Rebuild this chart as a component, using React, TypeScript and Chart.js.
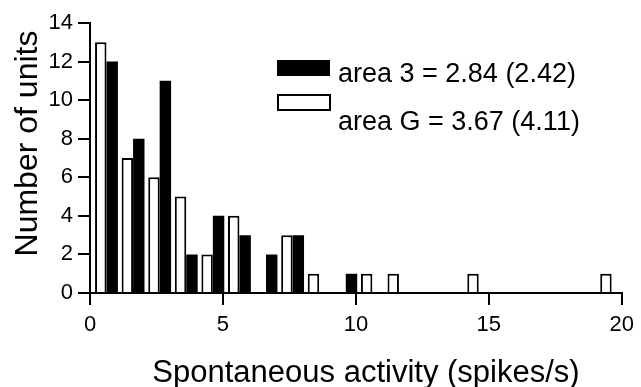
import { useEffect, useRef } from "react";
import { Chart, registerables } from "chart.js";

Chart.register(...registerables);

// ---- data ----
const binStarts = [0, 1, 2, 3, 4, 5, 6, 7, 8, 9, 10, 11, 12, 13, 14, 15, 16, 17, 18, 19];
const area3Counts = [12, 8, 11, 2, 4, 3, 2, 3, 0, 1, 0, 0, 0, 0, 0, 0, 0, 0, 0, 0];
const areaGCounts = [13, 7, 6, 5, 2, 4, 0, 3, 1, 0, 1, 1, 0, 0, 1, 0, 0, 0, 0, 1];
const legendLabels = ["area 3 = 2.84 (2.42)", "area G = 3.67 (4.11)"];
const xTitle = "Spontaneous activity (spikes/s)";
const yTitle = "Number of units";
const xMin = 0;
const xMax = 20;
const xStep = 5;
const yMin = 0;
const yMax = 14;
const yStep = 2;

// ---- layout / style constants ----
const W = 641;
const H = 387;
const FONT = "'Liberation Sans', Arial, Helvetica, sans-serif";
const PAIR_CENTER = 0.62; // where each bin's pair of bars is centred, relative to bin start

const figText = {
  id: "figText",
  afterDraw(chart: any) {
    const ctx = chart.ctx as CanvasRenderingContext2D;
    ctx.save();
    // legend
    ctx.fillStyle = "#000";
    ctx.fillRect(277, 60, 53, 16);
    ctx.fillStyle = "#fff";
    ctx.fillRect(278, 95, 52, 15);
    ctx.strokeStyle = "#000";
    ctx.lineWidth = 2;
    ctx.strokeRect(278, 95, 52, 15);
    ctx.fillStyle = "#000";
    ctx.font = `27px ${FONT}`;
    ctx.textAlign = "left";
    ctx.textBaseline = "alphabetic";
    ctx.fillText(legendLabels[0], 338, 82);
    ctx.fillText(legendLabels[1], 338, 130);
    // axis titles
    ctx.font = `31px ${FONT}`;
    ctx.textAlign = "center";
    ctx.fillText(xTitle, 366, 382);
    ctx.font = `32px ${FONT}`;
    ctx.translate(37, 143.5);
    ctx.rotate(-Math.PI / 2);
    ctx.fillText(yTitle, 0, 0);
    ctx.restore();
  },
};

export default function App() {
  const ref = useRef<HTMLCanvasElement>(null);

  useEffect(() => {
    document.body.style.margin = "0";
    const canvas = ref.current;
    if (!canvas) return;
    const chart = new Chart(canvas, {
      type: "bar",
      data: {
        datasets: [
          {
            label: "area G",
            data: binStarts.map((b, i) => ({ x: b + PAIR_CENTER, y: areaGCounts[i] })),
            backgroundColor: "#ffffff",
            borderColor: "#000000",
            borderWidth: 2,
            categoryPercentage: 0.86,
            barPercentage: 1.0,
          },
          {
            label: "area 3",
            data: binStarts.map((b, i) => ({ x: b + PAIR_CENTER, y: area3Counts[i] })),
            backgroundColor: "#000000",
            borderColor: "#000000",
            borderWidth: 0,
            categoryPercentage: 0.86,
            barPercentage: 1.0,
          },
        ],
      },
      options: {
        responsive: false,
        animation: false,
        devicePixelRatio: 1,
        layout: { padding: { left: 0, top: 23, right: 13, bottom: 0 } },
        plugins: {
          legend: { display: false },
          tooltip: { enabled: false },
          title: { display: false },
        },
        scales: {
          x: {
            type: "linear",
            min: xMin,
            max: xMax,
            offset: false,
            ticks: {
              stepSize: xStep,
              color: "#000",
              font: { family: FONT, size: 22 },
              padding: 7,
              maxRotation: 0,
            },
            grid: {
              offset: false,
              drawOnChartArea: false,
              drawTicks: true,
              tickLength: 12,
              color: "#000",
              lineWidth: 2,
            },
            border: { display: true, color: "#000", width: 2 },
            afterFit: (s: any) => {
              s.height = H - 293;
            },
          },
          y: {
            type: "linear",
            min: yMin,
            max: yMax,
            ticks: {
              stepSize: yStep,
              color: "#000",
              font: { family: FONT, size: 22 },
              padding: 5,
            },
            grid: {
              drawOnChartArea: false,
              drawTicks: true,
              tickLength: 12,
              color: "#000",
              lineWidth: 2,
            },
            border: { display: true, color: "#000", width: 2 },
            afterFit: (s: any) => {
              s.width = 90;
            },
          },
        },
      },
      plugins: [figText],
    });
    return () => chart.destroy();
  }, []);

  return (
    <div style={{ position: "absolute", left: 0, top: 0, width: W, height: H, background: "#fff" }}>
      <canvas ref={ref} width={W} height={H} style={{ display: "block" }} />
    </div>
  );
}
